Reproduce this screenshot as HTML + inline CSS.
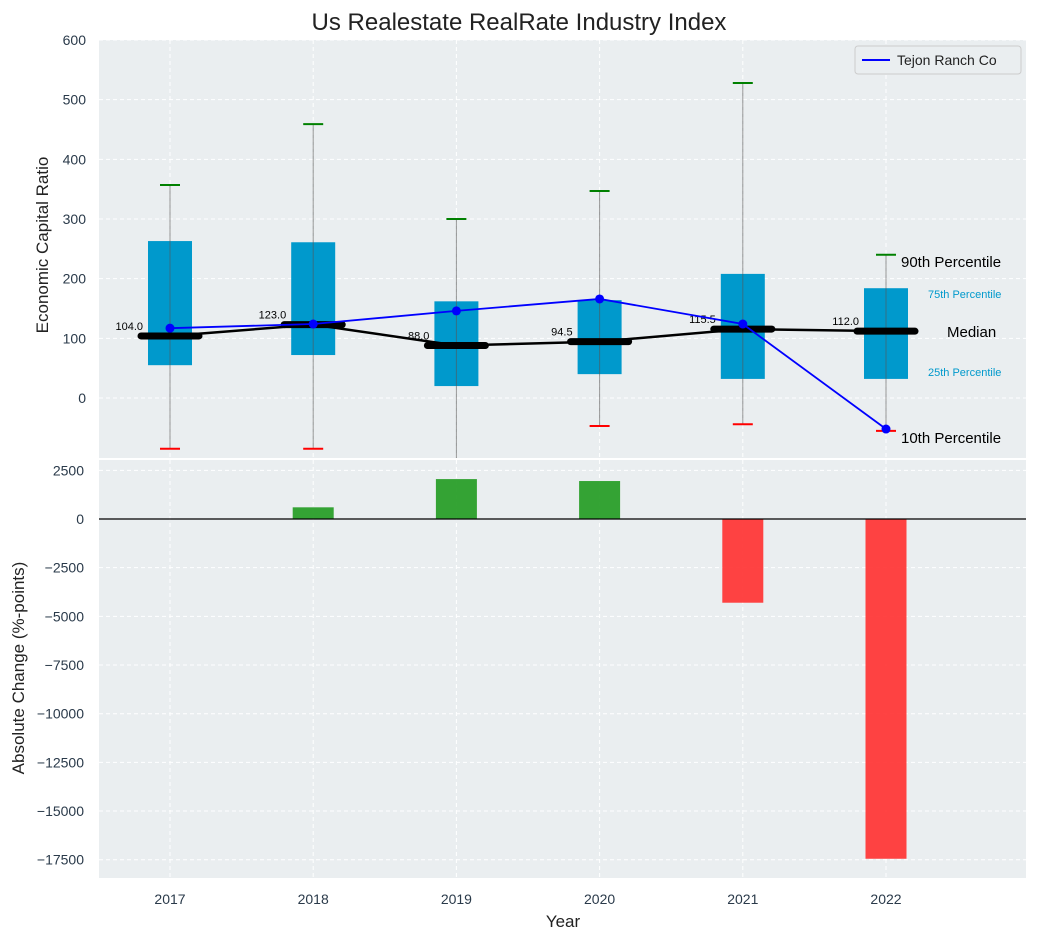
<!DOCTYPE html>
<html><head><meta charset="utf-8"><style>
body{margin:0;background:#fff;font-family:"Liberation Sans","DejaVu Sans",sans-serif;}
svg text{font-family:"Liberation Sans","DejaVu Sans",sans-serif;}
</style></head><body>
<svg id="c" width="1038" height="940" xmlns="http://www.w3.org/2000/svg"></svg>
<script>
const years=[2017,2018,2019,2020,2021,2022];
const p10=[-85,-85,-110,-47,-44,-55];
const q25=[55,72,20,40,32,32];
const medians=[104.0,123.0,88.0,94.5,115.5,112.0];
const q75=[263,261,162,164,208,184];
const p90=[357,459,300,347,528,240];
const tejon=[117,124,146,166,124,-52];
const changes=[0,600,2050,1950,-4300,-17450];
const topTicks=[0,100,200,300,400,500,600];
const botTicks=[2500,0,-2500,-5000,-7500,-10000,-12500,-15000,-17500];

const NS="http://www.w3.org/2000/svg";
const svg=document.getElementById('c');
function el(tag,attrs,parent){const e=document.createElementNS(NS,tag);for(const k in attrs)e.setAttribute(k,attrs[k]);(parent||svg).appendChild(e);return e;}
const L=99,R=1026;
const X=i=>170+143.2*i;
const Yt=v=>398-v*0.5967;
const Yb=v=>519-v*0.01947;
const T1=40,B1=458,T2=460,B2=878;

let bg=el('rect',{x:L,y:T1,width:R-L,height:B1-T1,fill:'#eaeef0'});

let bg2=el('rect',{x:L,y:T2,width:R-L,height:B2-T2,fill:'#eaeef0'});


years.forEach((y,i)=>{
  el('line',{x1:X(i),x2:X(i),y1:T1,y2:B1,stroke:'#fff','stroke-dasharray':'4,3','stroke-width':1});
  el('line',{x1:X(i),x2:X(i),y1:T2,y2:B2,stroke:'#fff','stroke-dasharray':'4,3','stroke-width':1});
});
topTicks.forEach(t=>{
  const y=Yt(t);
  el('line',{x1:L,x2:R,y1:y,y2:y,stroke:'#fff','stroke-dasharray':'4,3'});
  const tx=el('text',{x:L-13,y:y+5,'text-anchor':'end','font-size':14,fill:'#2a3a4a'});tx.textContent=t;
  
});
botTicks.forEach(t=>{
  const y=Yb(t);
  el('line',{x1:L,x2:R,y1:y,y2:y,stroke:'#fff','stroke-dasharray':'4,3'});
  const tx=el('text',{x:L-15,y:y+5,'text-anchor':'end','font-size':14,fill:'#2a3a4a'});tx.textContent=(t<0?'−'+(-t):t);
  
});

const defs=el('defs',{});
const cp=el('clipPath',{id:'ct'},defs);el('rect',{x:L,y:T1,width:R-L,height:B1-T1},cp);
const g=el('g',{'clip-path':'url(#ct)'});

years.forEach((yr,i)=>{
  const x=X(i);
  const b=el('rect',{x:x-22,y:Yt(q75[i]),width:44,height:Yt(q25[i])-Yt(q75[i]),fill:'#0099cc'},g);
  
  el('line',{x1:x,x2:x,y1:Yt(p10[i]),y2:Yt(p90[i]),stroke:'#555','stroke-opacity':0.6,'stroke-width':1},g);
  const c1=el('line',{x1:x-10,x2:x+10,y1:Yt(p90[i]),y2:Yt(p90[i]),stroke:'green','stroke-width':2},g);
  
  const c2=el('line',{x1:x-10,x2:x+10,y1:Yt(p10[i]),y2:Yt(p10[i]),stroke:'red','stroke-width':2},g);
  
});
const mp=el('polyline',{points:medians.map((m,i)=>X(i)+','+Yt(m)).join(' '),fill:'none',stroke:'#000','stroke-width':2.5},g);

medians.forEach((m,i)=>{
  const s=el('line',{x1:X(i)-29,x2:X(i)+29,y1:Yt(m),y2:Yt(m),stroke:'#000','stroke-width':7,'stroke-linecap':'round'},g);
  
  const t=el('text',{x:X(i)-27,y:Yt(m)-6,'text-anchor':'end','font-size':11,fill:'#000'},g);t.textContent=m.toFixed(1);
  
});
const tl=el('polyline',{points:tejon.map((v,i)=>X(i)+','+Yt(v)).join(' '),fill:'none',stroke:'#0000ff','stroke-width':1.8},g);

tejon.forEach((v,i)=>{const p=el('circle',{cx:X(i),cy:Yt(v),r:4.5,fill:'#0000ff'},g);
  });

const ann=[['90th Percentile',901,Yt(p90[5])+12,15,'#000'],['75th Percentile',928,Yt(q75[5])+10,11,'#0099cc'],['Median',947,Yt(medians[5])+6,15,'#000'],['25th Percentile',928,Yt(q25[5])-3,11,'#0099cc'],['10th Percentile',901,Yt(p10[5])+12,15,'#000']];
ann.forEach(a=>{const t=el('text',{x:a[1],y:a[2],'font-size':a[3],fill:a[4]});t.textContent=a[0];
  });

const lg=el('g',{});
el('rect',{x:855,y:46,width:166,height:28,fill:'#eaeef0',stroke:'#ccc',rx:3},lg);
el('line',{x1:862,x2:890,y1:60,y2:60,stroke:'#0000ff','stroke-width':2},lg);
const lt=el('text',{x:897,y:65,'font-size':14,fill:'#222'},lg);lt.textContent='Tejon Ranch Co';

const cp2=el('clipPath',{id:'cb'},defs);el('rect',{x:L,y:T2,width:R-L,height:B2-T2},cp2);
const g2=el('g',{'clip-path':'url(#cb)'});
changes.forEach((v,i)=>{
  const y0=Yb(0),y1=Yb(v);
  const b=el('rect',{x:X(i)-20.5,y:Math.min(y0,y1),width:41,height:Math.abs(y1-y0),fill:v>=0?'#249c24':'#ff3333','fill-opacity':0.92},g2);
  
});
el('line',{x1:L,x2:R,y1:Yb(0),y2:Yb(0),stroke:'#000','stroke-width':1.2});

years.forEach((y,i)=>{const t=el('text',{x:X(i),y:904,'text-anchor':'middle','font-size':14,fill:'#2a3a4a'});t.textContent=y;
  });

let t=el('text',{x:519,y:30,'text-anchor':'middle','font-size':24,fill:'#222'});t.textContent='Us Realestate RealRate Industry Index';

t=el('text',{x:563,y:927,'text-anchor':'middle','font-size':17,fill:'#222'});t.textContent='Year';

t=el('text',{x:0,y:0,'text-anchor':'middle','font-size':17,fill:'#222',transform:'translate(48,245) rotate(-90)'});t.textContent='Economic Capital Ratio';

t=el('text',{x:0,y:0,'text-anchor':'middle','font-size':17,fill:'#222',transform:'translate(24,668) rotate(-90)'});t.textContent='Absolute Change (%-points)';

</script>
</body></html>
